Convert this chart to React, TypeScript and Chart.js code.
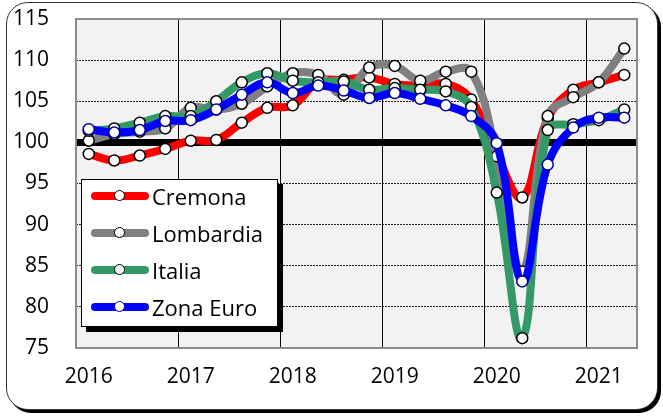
import React, { useEffect, useRef } from "react";
import { Chart, registerables } from "chart.js";

Chart.register(...registerables);

const YEARS = ["2016", "2017", "2018", "2019", "2020", "2021"];
const QUARTERS = ["T1", "T2", "T3", "T4"];
const N_POINTS = 22;

const cremona = [98.6, 97.8, 98.4, 99.2, 100.2, 100.3, 102.4, 104.2, 104.5, 107.4, 107.6, 107.9, 107.1, 106.9, 107.1, 105.2, 98.5, 93.3, 102.9, 106.4, 107.3, 108.2];
const lombardia = [100.2, 101.0, 101.3, 101.7, 104.2, 104.0, 104.7, 106.8, 108.4, 108.2, 105.8, 109.1, 109.3, 107.5, 108.6, 108.6, 98.3, 84.3, 103.2, 105.5, 107.3, 111.4];
const italia = [101.4, 101.7, 102.4, 103.2, 103.2, 105.0, 107.3, 108.4, 107.5, 107.3, 107.4, 106.4, 106.6, 106.4, 106.2, 104.3, 93.9, 76.2, 101.5, 102.2, 102.7, 104.0];
const zonaEuro = [101.6, 101.2, 101.5, 102.6, 102.7, 104.0, 105.8, 107.3, 106.0, 106.9, 106.3, 105.4, 106.0, 105.3, 104.5, 103.2, 99.9, 83.1, 97.3, 101.8, 103.0, 103.0];

const SERIES_NAMES = ["Cremona", "Lombardia", "Italia", "Zona Euro"];
const SERIES_COLORS = ["#ff0000", "#808080", "#339966", "#0000ff"];
const POINT_BORDERS = ["#000000", "#000000", "#000000", "#00008b"];

const FONT = "'Open Sans', 'DejaVu Sans', sans-serif";

const categories = YEARS.flatMap((y) => QUARTERS.map((q) => `${y} ${q}`)).slice(0, N_POINTS);

const plotDecor = {
  id: "plotDecor",
  beforeDraw(chart: any) {
    const { ctx, chartArea } = chart;
    ctx.save();
    ctx.fillStyle = "#f2f2f2";
    ctx.fillRect(chartArea.left, chartArea.top, chartArea.right - chartArea.left, chartArea.bottom - chartArea.top);
    ctx.restore();
  },
  beforeDatasetsDraw(chart: any) {
    const { ctx, chartArea, scales } = chart;
    const y100 = scales.y.getPixelForValue(100);
    ctx.save();
    ctx.strokeStyle = "#000";
    ctx.lineWidth = 7;
    ctx.beginPath();
    ctx.moveTo(chartArea.left, y100);
    ctx.lineTo(chartArea.right, y100);
    ctx.stroke();
    ctx.strokeStyle = "#8c8c8c";
    ctx.lineWidth = 2;
    ctx.strokeRect(chartArea.left, chartArea.top, chartArea.right - chartArea.left, chartArea.bottom - chartArea.top);
    ctx.restore();
  },
};

function ChartCanvas() {
  const ref = useRef<HTMLCanvasElement | null>(null);
  useEffect(() => {
    const values = [cremona, lombardia, italia, zonaEuro];
    const chart = new Chart(ref.current as HTMLCanvasElement, {
      type: "line",
      data: {
        labels: categories,
        datasets: values.map((d, i) => ({
          label: SERIES_NAMES[i],
          data: d,
          order: values.length - i,
          borderColor: SERIES_COLORS[i],
          backgroundColor: SERIES_COLORS[i],
          borderWidth: 8,
          tension: 0.4,
          fill: false,
          pointRadius: 5.5,
          pointBorderWidth: 1.5,
          pointBackgroundColor: "#ffffff",
          pointBorderColor: POINT_BORDERS[i],
          borderCapStyle: "round",
          borderJoinStyle: "round",
        })),
      },
      options: {
        responsive: false,
        animation: false,
        layout: { padding: { top: 0, right: 26, left: 0, bottom: 0 } },
        plugins: { legend: { display: false }, tooltip: { enabled: false } },
        scales: {
          x: {
            type: "category",
            offset: true,
            afterFit: (s: any) => {
              s.height = 68;
            },
            border: { display: false },
            grid: {
              offset: true,
              drawTicks: false,
              lineWidth: 1,
              color: (c: any) => (c.index % 4 === 0 && c.index > 0 && c.index < N_POINTS ? "#000" : "rgba(0,0,0,0)"),
            },
            ticks: {
              autoSkip: false,
              maxRotation: 0,
              minRotation: 0,
              padding: 16,
              color: "#000",
              font: { family: FONT, size: 21 },
              callback: (_v: any, i: number) => (i % 4 === 0 ? YEARS[i / 4] : ""),
            },
          },
          y: {
            min: 75,
            max: 115,
            afterFit: (s: any) => {
              s.width = 76;
              s.paddingTop = 19;
              s.paddingBottom = 0;
            },
            border: { display: false, dash: [2, 1] },
            grid: {
              drawTicks: false,
              lineWidth: 1,
              color: (c: any) => {
                const v = c.tick ? c.tick.value : 0;
                return v === 75 || v === 115 || v === 100 ? "rgba(0,0,0,0)" : "#222";
              },
            },
            ticks: {
              stepSize: 5,
              padding: 27,
              color: "#000",
              font: { family: FONT, size: 21 },
            },
          },
        },
      },
      plugins: [plotDecor],
    });
    return () => chart.destroy();
  }, []);
  return <canvas ref={ref} width={663} height={416} style={{ position: "absolute", left: 0, top: 0, display: "block" }} />;
}

function Legend() {
  return (
    <div
      style={{
        position: "absolute",
        left: 81,
        top: 179,
        width: 195,
        height: 146,
        background: "#fff",
        border: "1px solid #000",
        boxShadow: "5px 5px 0 #000",
        fontFamily: FONT,
        fontSize: 22,
        color: "#000",
      }}
    >
      {SERIES_NAMES.map((name, i) => (
        <div key={name} style={{ position: "absolute", left: 0, top: -2 + i * 37, height: 36, width: 195, display: "flex", alignItems: "center" }}>
          <div style={{ position: "relative", marginLeft: 9, width: 58, height: 36 }}>
            <div style={{ position: "absolute", left: 0, top: 14, width: 58, height: 8, borderRadius: 4, background: SERIES_COLORS[i] }} />
            <div
              style={{
                position: "absolute",
                left: 23,
                top: 12,
                width: 9,
                height: 9,
                borderRadius: "50%",
                background: "#fff",
                border: `1.5px solid ${POINT_BORDERS[i]}`,
              }}
            />
          </div>
          <span style={{ marginLeft: 3, lineHeight: "36px", whiteSpace: "nowrap" }}>{name}</span>
        </div>
      ))}
    </div>
  );
}

export default function App() {
  return (
    <div style={{ position: "fixed", left: 0, top: 0, width: 663, height: 416, background: "#fff", overflow: "hidden" }}>
      <div
        style={{
          position: "absolute",
          left: 6,
          top: 2,
          width: 650,
          height: 406,
          border: "1px solid #333",
          borderRadius: 22,
          boxShadow: "3px 3px 0 #000",
          background: "#fff",
        }}
      />
      <ChartCanvas />
      <Legend />
    </div>
  );
}
